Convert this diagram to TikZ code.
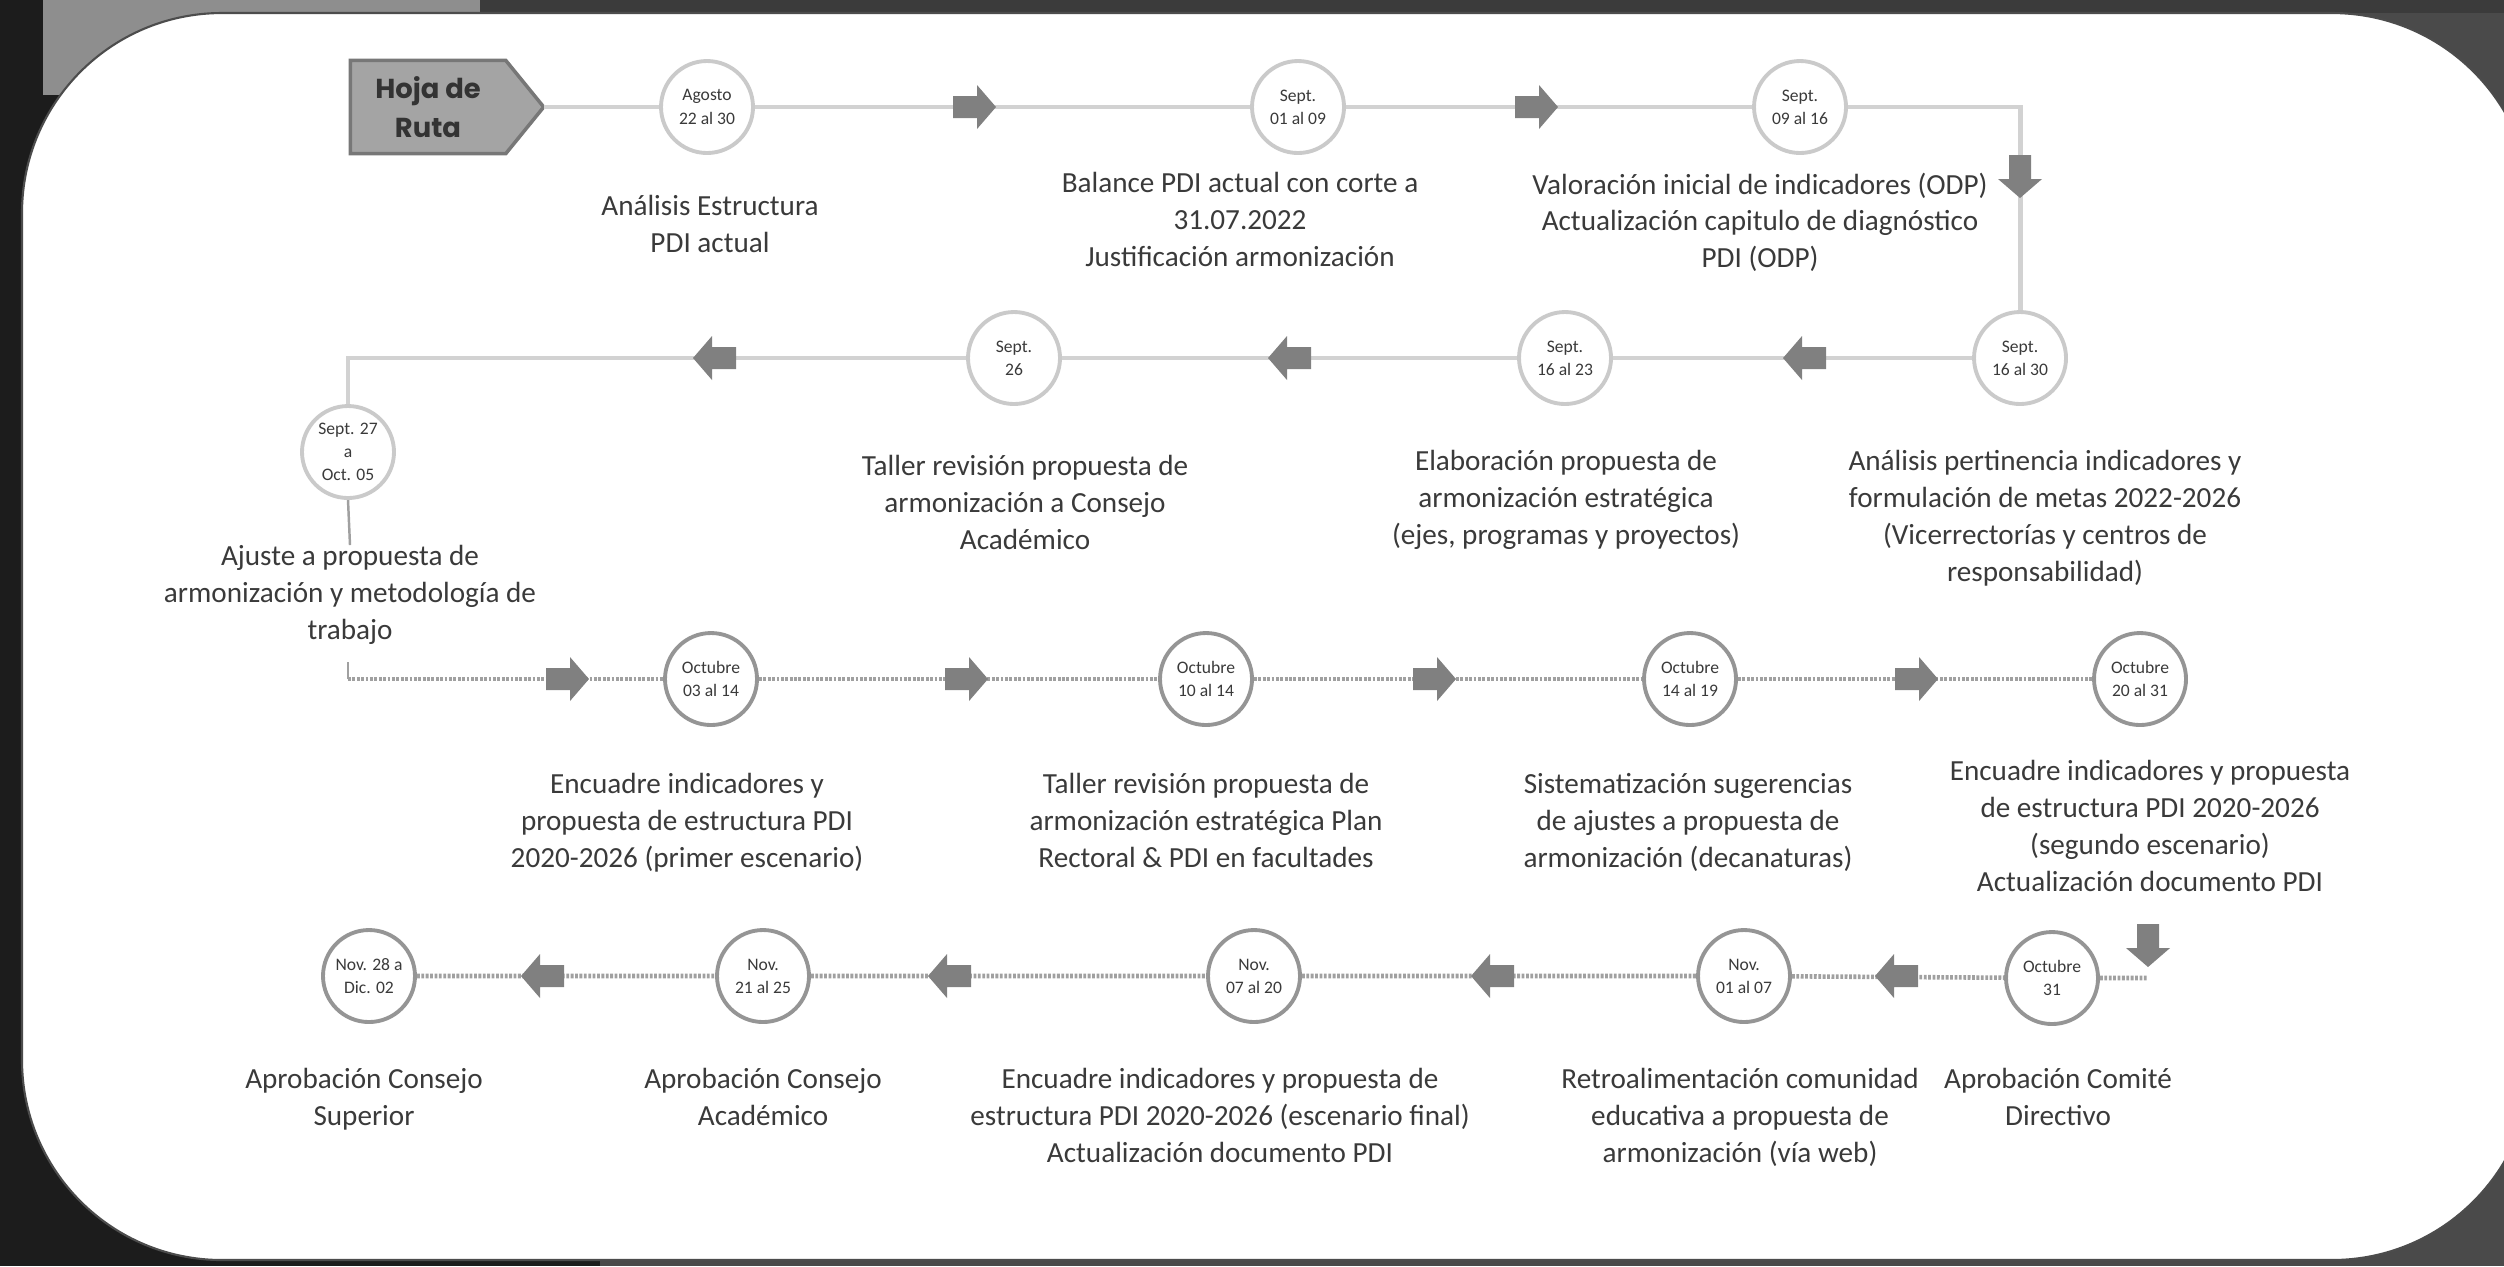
\documentclass[tikz,border=0pt]{standalone}
\usepackage{fontspec}
\setmainfont{Carlito}
\newfontfamily\hojafont{Poppins}
\usetikzlibrary{calc}
\definecolor{txt}{HTML}{3A3A3A}
\definecolor{outerc}{HTML}{4A4A4A}
\definecolor{stripc}{HTML}{1C1C1C}
\definecolor{barc}{HTML}{3B3B3B}
\definecolor{tabc}{HTML}{8E8E8E}
\definecolor{hojac}{HTML}{A4A4A4}
\definecolor{hojaedge}{HTML}{777777}
\definecolor{lineAc}{HTML}{D2D2D2}
\definecolor{lineBc}{HTML}{A0A0A0}
\definecolor{circA}{HTML}{CACACA}
\definecolor{circB}{HTML}{959595}
\definecolor{arrc}{HTML}{808080}
\pgfdeclarelayer{bgpanel}
\pgfdeclarelayer{lines}
\pgfsetlayers{bgpanel,lines,main}
\tikzset{
  datecirc/.style={circle, draw=#1, line width=1.1pt, fill=white, minimum size=0.92cm,
    inner sep=0pt, align=center, font=\fontsize{5}{6.6}\selectfont, text=txt},
  datecirc/.default=circA,
  lbl/.style={anchor=north, align=center, font=\fontsize{8.3}{10.5}\selectfont, text=txt, inner sep=0pt},
  lineA/.style={draw=lineAc, line width=1.4pt},
  lineB/.style={draw=lineBc, line width=1.3pt, dash pattern=on 0.8pt off 0.45pt},
  thinl/.style={draw=lineBc, line width=0.7pt},
  hojabox/.style={rectangle, minimum width=1.54cm, minimum height=0.92cm, inner sep=0pt,
    align=center, font=\hojafont\bfseries\fontsize{7.8}{11.2}\selectfont, text=black!80}
}
\newcommand\blkarrow[3]{%
  \coordinate (#1) at #2;
  \fill[arrc, shift={(#1)}, rotate=#3] (-0.21,0.11) -- (0.03,0.11) -- (0.03,0.22) -- (0.22,0)
    -- (0.03,-0.22) -- (0.03,-0.11) -- (-0.21,-0.11) -- cycle;
}
\begin{document}
\begin{tikzpicture}
\useasboundingbox (0,0) rectangle (25.04,-12.66);
\begin{pgfonlayer}{bgpanel}
  \fill[outerc] (0,0) rectangle (25.04,-12.66);
  \fill[stripc] (0,-0.13) rectangle (6,-12.66);
  \fill[stripc] (0,0) rectangle (0.43,-0.13);
  \fill[barc] (4.8,0) rectangle (25.04,-0.13);
  \fill[tabc] (0.43,0) rectangle (4.80,-0.95);
  \fill[white, draw=black!70, line width=0.6pt, rounded corners=2cm] (0.22,-0.13) rectangle (25.32,-12.60);
\end{pgfonlayer}

% Hoja de Ruta
\node[hojabox] (hoja) at (4.28,-1.07) {Hoja de\\Ruta};
\coordinate (hojatip) at ($(hoja.east)+(0.38,0)$);
\begin{pgfonlayer}{lines}
  \fill[hojac, draw=hojaedge, line width=1pt] (hoja.north west) -- (hoja.north east) -- (hojatip)
    -- (hoja.south east) -- (hoja.south west) -- cycle;
\end{pgfonlayer}

% circles
\node[datecirc] (c1) at (7.07,-1.07) {Agosto\\22 al 30};
\node[datecirc] (c2) at (12.98,-1.07) {Sept.\\01 al 09};
\node[datecirc] (c3) at (18.00,-1.07) {Sept.\\09 al 16};
\node[datecirc] (c4) at (20.20,-3.58) {Sept.\\16 al 30};
\node[datecirc] (c5) at (15.65,-3.58) {Sept.\\16 al 23};
\node[datecirc] (c6) at (10.14,-3.58) {Sept.\\26};
\node[datecirc] (c7) at (3.48,-4.52) {Sept. 27\\a\\Oct. 05};
\node[datecirc=circB] (c8) at (7.11,-6.79) {Octubre\\03 al 14};
\node[datecirc=circB] (c9) at (12.06,-6.79) {Octubre\\10 al 14};
\node[datecirc=circB] (c10) at (16.90,-6.79) {Octubre\\14 al 19};
\node[datecirc=circB] (c11) at (21.40,-6.79) {Octubre\\20 al 31};
\node[datecirc=circB] (c12) at (20.52,-9.78) {Octubre\\31};
\node[datecirc=circB] (c13) at (17.44,-9.76) {Nov.\\01 al 07};
\node[datecirc=circB] (c14) at (12.54,-9.76) {Nov.\\07 al 20};
\node[datecirc=circB] (c15) at (7.63,-9.76) {Nov.\\21 al 25};
\node[datecirc=circB] (c16) at (3.69,-9.76) {Nov. 28 a\\Dic. 02};

% labels
\node[lbl] (l1) at (7.10,-1.95) {Análisis Estructura\\PDI actual};
\node[lbl] (l2) at (12.40,-1.72) {Balance PDI actual con corte a\\31.07.2022\\Justificación armonización};
\node[lbl] (l3) at (17.60,-1.72) {Valoración inicial de indicadores (ODP)\\Actualización capitulo de diagnóstico\\PDI (ODP)};
\node[lbl] (l6) at (10.25,-4.55) {Taller revisión propuesta de\\armonización a Consejo\\Académico};
\node[lbl] (l5) at (15.66,-4.50) {Elaboración propuesta de\\armonización estratégica\\(ejes, programas y proyectos)};
\node[lbl] (l4) at (20.45,-4.50) {Análisis pertinencia indicadores y\\formulación de metas 2022-2026\\(Vicerrectorías y centros de\\responsabilidad)};
\node[lbl] (l7) at (3.50,-5.45) {Ajuste a propuesta de\\armonización y metodología de\\trabajo};
\node[lbl] (l8) at (6.87,-7.73) {Encuadre indicadores y\\propuesta de estructura PDI\\2020-2026 (primer escenario)};
\node[lbl] (l9) at (12.06,-7.73) {Taller revisión propuesta de\\armonización estratégica Plan\\Rectoral \& PDI en facultades};
\node[lbl] (l10) at (16.88,-7.73) {Sistematización sugerencias\\de ajustes a propuesta de\\armonización (decanaturas)};
\node[lbl] (l11) at (21.50,-7.60) {Encuadre indicadores y propuesta\\de estructura PDI 2020-2026\\(segundo escenario)\\Actualización documento PDI};
\node[lbl] (l16) at (3.64,-10.68) {Aprobación Consejo\\Superior};
\node[lbl] (l15) at (7.63,-10.68) {Aprobación Consejo\\Académico};
\node[lbl] (l14) at (12.20,-10.68) {Encuadre indicadores y propuesta de\\estructura PDI 2020-2026 (escenario final)\\Actualización documento PDI};
\node[lbl] (l13) at (17.40,-10.68) {Retroalimentación comunidad\\educativa a propuesta de\\armonización (vía web)};
\node[lbl] (l12) at (20.58,-10.68) {Aprobación Comité\\Directivo};

% arrows
\blkarrow{a1}{(9.74,-1.07)}{0}
\blkarrow{a2}{(15.36,-1.07)}{0}
\blkarrow{d1}{(20.20,-1.76)}{-90}
\blkarrow{a3}{(18.05,-3.58)}{180}
\blkarrow{a4}{(12.90,-3.58)}{180}
\blkarrow{a5}{(7.15,-3.58)}{180}
\blkarrow{a6}{(5.67,-6.79)}{0}
\blkarrow{a7}{(9.66,-6.79)}{0}
\blkarrow{a8}{(14.34,-6.79)}{0}
\blkarrow{a9}{(19.16,-6.79)}{0}
\blkarrow{d2}{(21.48,-9.45)}{-90}
\blkarrow{a10}{(18.97,-9.76)}{180}
\blkarrow{a11}{(14.93,-9.76)}{180}
\blkarrow{a12}{(9.50,-9.76)}{180}
\blkarrow{a13}{(5.43,-9.76)}{180}

% connectors
\begin{pgfonlayer}{lines}
  \draw[lineA] (hojatip) -- (c1) -- (c2) -- (c3) -- (c3 -| c4) -- (c4);
  \draw[lineA] (c4) -- (c5) -- (c6) -- (c6 -| c7) -- (c7);
  \draw[thinl] (c7.south) -- (l7.north);
  \draw[thinl] (c8 -| c7) -- ++(0,0.17);
  \draw[lineB] (c8 -| c7) -- (c8) -- (c9) -- (c10) -- (c11);
  \draw[lineB] (c16) -- (c15) -- (c14) -- (c13) -- (c12) -- (c12 -| d2);
\end{pgfonlayer}
\end{tikzpicture}
\end{document}
